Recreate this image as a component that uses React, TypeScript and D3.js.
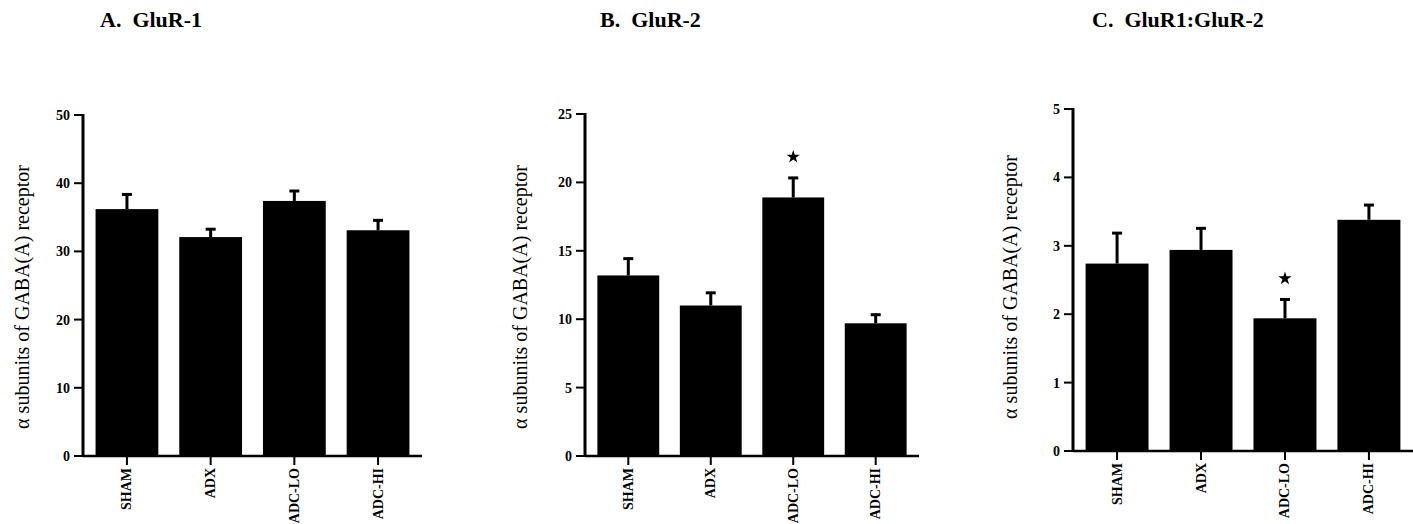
import React, { useRef, useEffect } from "react";
import * as d3 from "d3";

// groups on the x axis
const categories = ["SHAM", "ADX", "ADC-LO", "ADC-HI"];

// A. GluR-1
const glur1Mean = [36.2, 32.1, 37.4, 33.1];
const glur1Err = [2.3, 1.3, 1.6, 1.6];
const glur1Ticks = [0, 10, 20, 30, 40, 50];

// B. GluR-2
const glur2Mean = [13.2, 11.0, 18.9, 9.7];
const glur2Err = [1.3, 1.0, 1.5, 0.7];
const glur2Ticks = [0, 5, 10, 15, 20, 25];
const glur2Star = [false, false, true, false];

// C. GluR1:GluR-2
const ratioMean = [2.74, 2.94, 1.94, 3.38];
const ratioErr = [0.46, 0.33, 0.29, 0.23];
const ratioTicks = [0, 1, 2, 3, 4, 5];
const ratioStar = [false, false, true, false];

const yLabel = "\u03b1 subunits of GABA(A) receptor";
const serif = "'Liberation Serif', 'Times New Roman', serif";

const panels = [
  { title: "A.  GluR-1", titleX: 100, mean: glur1Mean, err: glur1Err, ticks: glur1Ticks, star: null,
    axisX: 83, xEnd: 422, y0: 456, yTop: 115, labelX: 22, labelY: 297 },
  { title: "B.  GluR-2", titleX: 600, mean: glur2Mean, err: glur2Err, ticks: glur2Ticks, star: glur2Star,
    axisX: 585, xEnd: 919, y0: 456, yTop: 114, labelX: 520, labelY: 297 },
  { title: "C.  GluR1:GluR-2", titleX: 1092, mean: ratioMean, err: ratioErr, ticks: ratioTicks, star: ratioStar,
    axisX: 1073, xEnd: 1413, y0: 451, yTop: 109, labelX: 1010, labelY: 287 },
];

const App = () => {
  let svgRef = useRef<SVGSVGElement>(null);

  useEffect(() => {
    const svg = d3.select(svgRef.current);
    svg.selectAll("*").remove();

    panels.forEach((p) => {
      const g = svg.append("g");
      const y = d3
        .scaleLinear()
        .domain([0, p.ticks[p.ticks.length - 1]])
        .range([p.y0, p.yTop]);
      const x = d3
        .scaleBand()
        .domain(categories)
        .range([p.axisX, p.xEnd])
        .paddingInner(0.25)
        .paddingOuter(0.15);

      // title
      g.append("text")
        .attr("x", p.titleX)
        .attr("y", 27)
        .style("font-family", serif)
        .style("font-weight", "bold")
        .style("font-size", "22px")
        .style("white-space", "pre")
        .text(p.title);

      // y label
      g.append("text")
        .attr("transform", `translate(${p.labelX + 7},${p.labelY}) rotate(-90)`)
        .attr("text-anchor", "middle")
        .style("font-family", serif)
        .style("font-size", "20px")
        .text(yLabel);

      // bars
      g.selectAll("rect.bar")
        .data(p.mean)
        .enter()
        .append("rect")
        .attr("x", (d, i) => x(categories[i]))
        .attr("y", (d) => y(d))
        .attr("width", x.bandwidth())
        .attr("height", (d) => p.y0 - y(d))
        .style("fill", "#000");

      // error bars (upper only)
      p.mean.forEach((m, i) => {
        const cx = x(categories[i]) + x.bandwidth() / 2;
        g.append("line")
          .attr("x1", cx).attr("x2", cx)
          .attr("y1", y(m)).attr("y2", y(m + p.err[i]))
          .style("stroke", "#000").style("stroke-width", 3);
        g.append("line")
          .attr("x1", cx - 5).attr("x2", cx + 5)
          .attr("y1", y(m + p.err[i]) + 1).attr("y2", y(m + p.err[i]) + 1)
          .style("stroke", "#000").style("stroke-width", 3);
        if (p.star && p.star[i]) {
          g.append("path")
            .attr("d", d3.symbol().type(d3.symbolStar).size(55)())
            .attr("transform", `translate(${cx},${y(m + p.err[i]) - 20})`)
            .style("fill", "#000");
        }
      });

      // y axis
      g.append("line")
        .attr("x1", p.axisX).attr("x2", p.axisX)
        .attr("y1", p.yTop - 1).attr("y2", p.y0 + 1)
        .style("stroke", "#000").style("stroke-width", 3);
      p.ticks.forEach((t) => {
        g.append("line")
          .attr("x1", p.axisX - 9).attr("x2", p.axisX)
          .attr("y1", y(t)).attr("y2", y(t))
          .style("stroke", "#000").style("stroke-width", 2);
        g.append("text")
          .attr("x", p.axisX - 13)
          .attr("y", y(t))
          .attr("dy", "0.35em")
          .attr("text-anchor", "end")
          .style("font-family", serif)
          .style("font-weight", "bold")
          .style("font-size", "14px")
          .text(t);
      });

      // x axis
      g.append("line")
        .attr("x1", p.axisX).attr("x2", p.xEnd)
        .attr("y1", p.y0).attr("y2", p.y0)
        .style("stroke", "#000").style("stroke-width", 2.5);
      categories.forEach((c) => {
        const cx = x(c) + x.bandwidth() / 2;
        g.append("line")
          .attr("x1", cx).attr("x2", cx)
          .attr("y1", p.y0).attr("y2", p.y0 + 9)
          .style("stroke", "#000").style("stroke-width", 2);
        g.append("text")
          .attr("transform", `translate(${cx + 4.5},${p.y0 + 12}) rotate(-90)`)
          .attr("text-anchor", "end")
          .style("font-family", serif)
          .style("font-weight", "bold")
          .style("font-size", "14px")
          .text(c);
      });
    });
  }, []);

  return (
    <svg
      ref={svgRef}
      width={1413}
      height={524}
      style={{ position: "absolute", left: 0, top: 0, background: "#fff" }}
    />
  );
};

export default App;
